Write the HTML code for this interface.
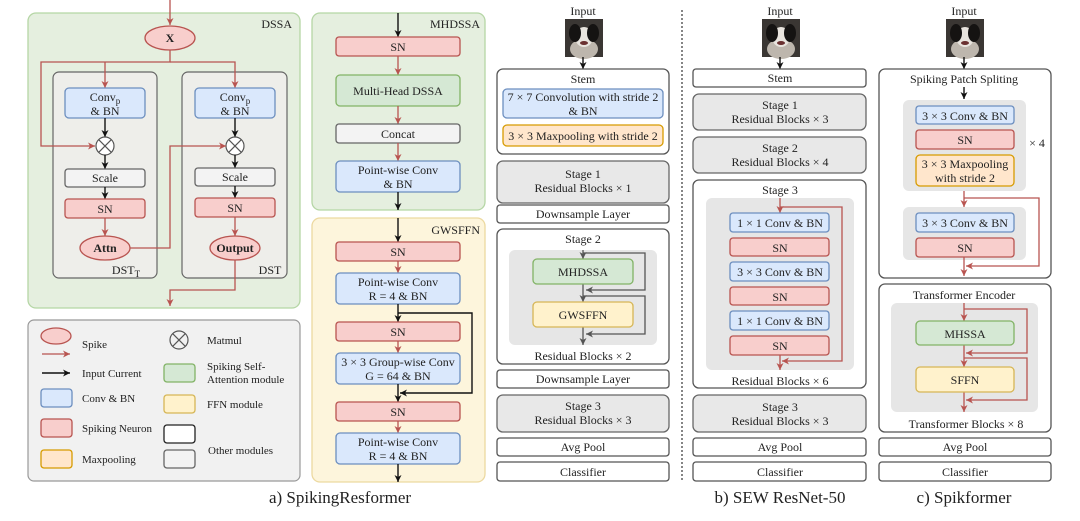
<!DOCTYPE html>
<html><head><meta charset="utf-8"><style>
html,body{margin:0;padding:0;background:#fff;}
svg{display:block;font-family:"Liberation Serif",serif;}
</style></head><body>
<svg width="1080" height="521" viewBox="0 0 1080 521" xmlns="http://www.w3.org/2000/svg">
<defs>
<marker id="ar" markerWidth="8" markerHeight="8" refX="7" refY="4" orient="auto" markerUnits="userSpaceOnUse"><path d="M0,0.5 L7,4 L0,7.5 L2,4 Z" fill="#b85450"/></marker>
<marker id="ak" markerWidth="8" markerHeight="8" refX="7" refY="4" orient="auto" markerUnits="userSpaceOnUse"><path d="M0,0.5 L7,4 L0,7.5 L2,4 Z" fill="#111"/></marker>
<marker id="ag" markerWidth="8" markerHeight="8" refX="7" refY="4" orient="auto" markerUnits="userSpaceOnUse"><path d="M0,0.5 L7,4 L0,7.5 L2,4 Z" fill="#555"/></marker>
<g id="dog"><rect width="38" height="38" fill="#3a3633"/><ellipse cx="19" cy="30" rx="14" ry="10" fill="#bdb6ad"/><ellipse cx="19" cy="18" rx="9" ry="10" fill="#e8e4de"/><ellipse cx="10" cy="14" rx="6" ry="9" fill="#151312"/><ellipse cx="28" cy="14" rx="6" ry="9" fill="#151312"/><ellipse cx="19" cy="24" rx="4" ry="2" fill="#6a3030"/></g>
</defs>
<style>
.t{font-size:12px;fill:#222;text-anchor:middle;}
.tl{font-size:12px;fill:#222;}
.lg11{font-size:11px;fill:#222;}
.cap{font-size:17px;fill:#222;text-anchor:middle;}
.b{stroke:#6c8ebf;fill:#dae8fc;stroke-width:1.3;}
.r{stroke:#b85450;fill:#f8cecc;stroke-width:1.3;}
.g{stroke:#82b366;fill:#d5e8d4;stroke-width:1.3;}
.y{stroke:#d6b656;fill:#fff2cc;stroke-width:1.3;}
.o{stroke:#d79b00;fill:#ffe6cc;stroke-width:1.3;}
.w{stroke:#555;fill:#fff;stroke-width:1.3;}
.s{stroke:#666;fill:#f3f3f3;stroke-width:1.3;}
.gr{stroke:#666;fill:#e8e8e8;stroke-width:1.3;}
.lr{stroke:#b85450;fill:none;stroke-width:1.3;}
.lk{stroke:#111;fill:none;stroke-width:1.4;}
.lg{stroke:#555;fill:none;stroke-width:1.3;}
</style>

<!-- DSSA panel -->
<rect x="28" y="13" width="272" height="295" rx="8" fill="#e5efdf" stroke="#b5d6a5" stroke-width="1.3"/>
<text x="292" y="28" class="tl" style="text-anchor:end">DSSA</text>
<rect x="53" y="72" width="104" height="206" rx="6" fill="#eeeeea" stroke="#666" stroke-width="1.2"/>
<rect x="182" y="72" width="105" height="206" rx="6" fill="#eeeeea" stroke="#666" stroke-width="1.2"/>
<line x1="170" y1="0" x2="170" y2="25" class="lr" marker-end="url(#ar)"/>
<ellipse cx="170" cy="38" rx="25" ry="12" class="r"/>
<text x="170" y="42" class="t" font-weight="bold">X</text>
<polyline points="170,50 170,62 41,62 41,146 95,146" class="lr" marker-end="url(#ar)"/>
<polyline points="105,62 105,88" class="lr" marker-end="url(#ar)"/>
<polyline points="170,62 235,62 235,88" class="lr" marker-end="url(#ar)"/>
<rect x="65" y="88" width="80" height="30" rx="4" class="b"/>
<text x="105" y="101" class="t">Conv<tspan style="font-size:9px" dy="3">p</tspan></text><text x="105" y="115" class="t">&amp; BN</text>
<rect x="195" y="88" width="80" height="30" rx="4" class="b"/>
<text x="235" y="101" class="t">Conv<tspan style="font-size:9px" dy="3">p</tspan></text><text x="235" y="115" class="t">&amp; BN</text>
<line x1="105" y1="118" x2="105" y2="137" class="lk" marker-end="url(#ak)"/>
<line x1="235" y1="118" x2="235" y2="137" class="lk" marker-end="url(#ak)"/>
<g stroke="#555" stroke-width="1.2" fill="#fff"><circle cx="105" cy="146" r="9"/><path d="M98.6,139.6 L111.4,152.4 M111.4,139.6 L98.6,152.4"/><circle cx="235" cy="146" r="9"/><path d="M228.6,139.6 L241.4,152.4 M241.4,139.6 L228.6,152.4"/></g>
<line x1="105" y1="155" x2="105" y2="169" class="lk" marker-end="url(#ak)"/>
<line x1="235" y1="155" x2="235" y2="168" class="lk" marker-end="url(#ak)"/>
<rect x="65" y="169" width="80" height="18" rx="3" class="s"/><text x="105" y="182" class="t">Scale</text>
<rect x="195" y="168" width="80" height="18" rx="3" class="s"/><text x="235" y="181" class="t">Scale</text>
<line x1="105" y1="187" x2="105" y2="199" class="lk" marker-end="url(#ak)"/>
<line x1="235" y1="186" x2="235" y2="198" class="lk" marker-end="url(#ak)"/>
<rect x="65" y="199" width="80" height="19" rx="3" class="r"/><text x="105" y="213" class="t">SN</text>
<rect x="195" y="198" width="80" height="19" rx="3" class="r"/><text x="235" y="212" class="t">SN</text>
<line x1="105" y1="218" x2="105" y2="236" class="lr" marker-end="url(#ar)"/>
<line x1="235" y1="217" x2="235" y2="236" class="lr" marker-end="url(#ar)"/>
<ellipse cx="105" cy="248" rx="25" ry="12" class="r"/><text x="105" y="252" class="t" font-weight="bold">Attn</text>
<ellipse cx="235" cy="248" rx="25" ry="12" class="r"/><text x="235" y="252" class="t" font-weight="bold">Output</text>
<polyline points="130,248 170,248 170,146 226,146" class="lr" marker-end="url(#ar)"/>
<polyline points="235,260 235,290 170,290 170,306" class="lr" marker-end="url(#ar)"/>
<text x="126" y="274" class="t">DST<tspan style="font-size:9px" dy="3">T</tspan></text>
<text x="270" y="274" class="t">DST</text>

<!-- Legend -->
<rect x="28" y="320" width="272" height="161" rx="6" fill="#f1f1f1" stroke="#999" stroke-width="1.2"/>
<ellipse cx="56" cy="336" rx="15" ry="8" class="r"/>
<text x="82" y="348" class="lg11">Spike</text>
<line x1="42" y1="354" x2="70" y2="354" class="lr" marker-end="url(#ar)"/>
<line x1="42" y1="373" x2="70" y2="373" class="lk" marker-end="url(#ak)"/>
<text x="82" y="377" class="lg11">Input Current</text>
<rect x="41" y="389" width="31" height="18" rx="3" class="b"/><text x="82" y="402" class="lg11">Conv &amp; BN</text>
<rect x="41" y="419" width="31" height="18" rx="3" class="r"/><text x="82" y="432" class="lg11">Spiking Neuron</text>
<rect x="41" y="450" width="31" height="18" rx="3" class="o"/><text x="82" y="463" class="lg11">Maxpooling</text>
<g stroke="#555" stroke-width="1.2" fill="none"><circle cx="179" cy="340" r="9"/><path d="M172.6,333.6 L185.4,346.4 M185.4,333.6 L172.6,346.4"/></g>
<text x="207" y="344" class="lg11">Matmul</text>
<rect x="164" y="364" width="31" height="18" rx="3" class="g"/>
<text x="207" y="370" class="lg11">Spiking Self-</text><text x="207" y="383" class="lg11">Attention module</text>
<rect x="164" y="395" width="31" height="18" rx="3" class="y"/><text x="207" y="408" class="lg11">FFN module</text>
<rect x="164" y="425" width="31" height="18" rx="3" fill="#fff" stroke="#222" stroke-width="1.3"/>
<rect x="164" y="450" width="31" height="18" rx="3" class="s"/>
<text x="208" y="454" class="lg11">Other modules</text>
<text x="340" y="503" class="cap">a) SpikingResformer</text>

<!-- MHDSSA -->
<rect x="312" y="13" width="173" height="197" rx="8" fill="#e5efdf" stroke="#b5d6a5" stroke-width="1.3"/>
<text x="480" y="28" class="tl" style="text-anchor:end">MHDSSA</text>
<line x1="398" y1="13" x2="398" y2="37" class="lk" marker-end="url(#ak)"/>
<rect x="336" y="37" width="124" height="19" rx="3" class="r"/><text x="398" y="51" class="t">SN</text>
<line x1="398" y1="56" x2="398" y2="75" class="lr" marker-end="url(#ar)"/>
<rect x="336" y="75" width="124" height="31" rx="4" class="g"/><text x="398" y="95" class="t">Multi-Head DSSA</text>
<line x1="398" y1="106" x2="398" y2="124" class="lr" marker-end="url(#ar)"/>
<rect x="336" y="124" width="124" height="19" rx="3" class="s"/><text x="398" y="138" class="t">Concat</text>
<line x1="398" y1="143" x2="398" y2="161" class="lr" marker-end="url(#ar)"/>
<rect x="336" y="161" width="124" height="31" rx="4" class="b"/><text x="398" y="174" class="t">Point-wise Conv</text><text x="398" y="188" class="t">&amp; BN</text>
<line x1="398" y1="192" x2="398" y2="210" class="lk" marker-end="url(#ak)"/>

<!-- GWSFFN -->
<rect x="312" y="218" width="173" height="264" rx="8" fill="#fdf5dc" stroke="#ecd9a0" stroke-width="1.3"/>
<text x="480" y="234" class="tl" style="text-anchor:end">GWSFFN</text>
<line x1="398" y1="218" x2="398" y2="242" class="lk" marker-end="url(#ak)"/>
<rect x="336" y="242" width="124" height="19" rx="3" class="r"/><text x="398" y="256" class="t">SN</text>
<line x1="398" y1="261" x2="398" y2="273" class="lr" marker-end="url(#ar)"/>
<rect x="336" y="273" width="124" height="31" rx="4" class="b"/><text x="398" y="286" class="t">Point-wise Conv</text><text x="398" y="300" class="t">R = 4 &amp; BN</text>
<line x1="398" y1="304" x2="398" y2="322" class="lk" marker-end="url(#ak)"/>
<polyline points="398,313 472,313 472,393 400,393" class="lk" marker-end="url(#ak)"/>
<rect x="336" y="322" width="124" height="19" rx="3" class="r"/><text x="398" y="336" class="t">SN</text>
<line x1="398" y1="341" x2="398" y2="353" class="lr" marker-end="url(#ar)"/>
<rect x="336" y="353" width="124" height="31" rx="4" class="b"/><text x="398" y="366" class="t">3 × 3 Group-wise Conv</text><text x="398" y="380" class="t">G = 64 &amp; BN</text>
<line x1="398" y1="384" x2="398" y2="402" class="lk" marker-end="url(#ak)"/>
<rect x="336" y="402" width="124" height="19" rx="3" class="r"/><text x="398" y="416" class="t">SN</text>
<line x1="398" y1="421" x2="398" y2="433" class="lr" marker-end="url(#ar)"/>
<rect x="336" y="433" width="124" height="31" rx="4" class="b"/><text x="398" y="446" class="t">Point-wise Conv</text><text x="398" y="460" class="t">R = 4 &amp; BN</text>
<line x1="398" y1="464" x2="398" y2="482" class="lk" marker-end="url(#ak)"/>

<!-- ResFormer column -->
<text x="583" y="15" class="t">Input</text>
<use href="#dog" x="565" y="19"/>
<line x1="583" y1="57" x2="583" y2="69" class="lk" marker-end="url(#ak)"/>
<rect x="497" y="69" width="172" height="85" rx="6" class="w"/>
<text x="583" y="83" class="t">Stem</text>
<rect x="503" y="89" width="160" height="29" rx="4" class="b"/><text x="583" y="101" class="t">7 × 7 Convolution with stride 2</text><text x="583" y="115" class="t">&amp; BN</text>
<rect x="503" y="125" width="160" height="21" rx="4" class="o"/><text x="583" y="140" class="t">3 × 3 Maxpooling with stride 2</text>
<rect x="497" y="161" width="172" height="42" rx="6" class="gr"/><text x="583" y="178" class="t">Stage 1</text><text x="583" y="192" class="t">Residual Blocks × 1</text>
<rect x="497" y="205" width="172" height="18" rx="3" class="w"/><text x="583" y="218" class="t">Downsample Layer</text>
<rect x="497" y="229" width="172" height="135" rx="6" class="w"/>
<text x="583" y="243" class="t">Stage 2</text>
<rect x="509" y="250" width="148" height="95" rx="6" fill="#e6e6e6"/>
<line x1="583" y1="250" x2="583" y2="259" class="lg" marker-end="url(#ag)"/>
<polyline points="583,253 645,253 645,290 586,290" class="lg" marker-end="url(#ag)"/>
<polyline points="583,284 583,302" class="lg" marker-end="url(#ag)"/>
<polyline points="583,296 645,296 645,334 586,334" class="lg" marker-end="url(#ag)"/>
<line x1="583" y1="327" x2="583" y2="345" class="lg" marker-end="url(#ag)"/>
<rect x="533" y="259" width="100" height="25" rx="4" class="g"/><text x="583" y="276" class="t">MHDSSA</text>
<rect x="533" y="302" width="100" height="25" rx="4" class="y"/><text x="583" y="319" class="t">GWSFFN</text>
<text x="583" y="360" class="t">Residual Blocks × 2</text>
<rect x="497" y="370" width="172" height="18" rx="3" class="w"/><text x="583" y="383" class="t">Downsample Layer</text>
<rect x="497" y="395" width="172" height="37" rx="6" class="gr"/><text x="583" y="410" class="t">Stage 3</text><text x="583" y="424" class="t">Residual Blocks × 3</text>
<rect x="497" y="438" width="172" height="18" rx="3" class="w"/><text x="583" y="451" class="t">Avg Pool</text>
<rect x="497" y="462" width="172" height="19" rx="3" class="w"/><text x="583" y="476" class="t">Classifier</text>

<line x1="682" y1="10" x2="682" y2="481" stroke="#444" stroke-width="1.3" stroke-dasharray="2,2"/>

<!-- SEW -->
<text x="780" y="15" class="t">Input</text>
<use href="#dog" x="762" y="19"/>
<line x1="780" y1="57" x2="780" y2="69" class="lk" marker-end="url(#ak)"/>
<rect x="693" y="69" width="173" height="18" rx="3" class="w"/><text x="780" y="82" class="t">Stem</text>
<rect x="693" y="94" width="173" height="36" rx="6" class="gr"/><text x="780" y="109" class="t">Stage 1</text><text x="780" y="123" class="t">Residual Blocks × 3</text>
<rect x="693" y="137" width="173" height="36" rx="6" class="gr"/><text x="780" y="152" class="t">Stage 2</text><text x="780" y="166" class="t">Residual Blocks × 4</text>
<rect x="693" y="180" width="173" height="208" rx="6" class="w"/>
<text x="780" y="194" class="t">Stage 3</text>
<rect x="706" y="198" width="148" height="172" rx="6" fill="#e6e6e6"/>
<line x1="780" y1="198" x2="780" y2="213" class="lr" marker-end="url(#ar)"/>
<polyline points="780,207 842,207 842,361 782,361" class="lr" marker-end="url(#ar)"/>
<line x1="780" y1="355" x2="780" y2="370" class="lr" marker-end="url(#ar)"/>
<rect x="730" y="213" width="99" height="19" rx="3" class="b"/><text x="780" y="227" class="t">1 × 1 Conv &amp; BN</text>
<rect x="730" y="238" width="99" height="18" rx="3" class="r"/><text x="780" y="252" class="t">SN</text>
<rect x="730" y="262" width="99" height="19" rx="3" class="b"/><text x="780" y="276" class="t">3 × 3 Conv &amp; BN</text>
<rect x="730" y="287" width="99" height="18" rx="3" class="r"/><text x="780" y="301" class="t">SN</text>
<rect x="730" y="311" width="99" height="19" rx="3" class="b"/><text x="780" y="325" class="t">1 × 1 Conv &amp; BN</text>
<rect x="730" y="336" width="99" height="19" rx="3" class="r"/><text x="780" y="350" class="t">SN</text>
<text x="780" y="385" class="t">Residual Blocks × 6</text>
<rect x="693" y="395" width="173" height="37" rx="6" class="gr"/><text x="780" y="411" class="t">Stage 3</text><text x="780" y="425" class="t">Residual Blocks × 3</text>
<rect x="693" y="438" width="173" height="18" rx="3" class="w"/><text x="780" y="451" class="t">Avg Pool</text>
<rect x="693" y="462" width="173" height="19" rx="3" class="w"/><text x="780" y="476" class="t">Classifier</text>
<text x="780" y="503" class="cap">b) SEW ResNet-50</text>

<!-- Spikformer -->
<text x="964" y="15" class="t">Input</text>
<use href="#dog" x="946" y="19"/>
<line x1="964" y1="57" x2="964" y2="69" class="lk" marker-end="url(#ak)"/>
<rect x="879" y="69" width="172" height="209" rx="6" class="w"/>
<text x="964" y="83" class="t">Spiking Patch Spliting</text>
<line x1="964" y1="87" x2="964" y2="99" class="lk" marker-end="url(#ak)"/>
<rect x="903" y="100" width="123" height="91" rx="6" fill="#e6e6e6"/>
<rect x="916" y="106" width="98" height="18" rx="3" class="b"/><text x="965" y="120" class="t">3 × 3 Conv &amp; BN</text>
<rect x="916" y="130" width="98" height="19" rx="3" class="r"/><text x="965" y="144" class="t">SN</text>
<rect x="916" y="155" width="98" height="31" rx="4" class="o"/><text x="965" y="168" class="t">3 × 3 Maxpooling</text><text x="965" y="182" class="t">with stride 2</text>
<text x="1037" y="147" class="t">× 4</text>
<line x1="964" y1="191" x2="964" y2="207" class="lr" marker-end="url(#ar)"/>
<polyline points="964,198 1039,198 1039,266 966,266" class="lr" marker-end="url(#ar)"/>
<rect x="903" y="207" width="123" height="53" rx="6" fill="#e6e6e6"/>
<rect x="916" y="213" width="98" height="19" rx="3" class="b"/><text x="965" y="227" class="t">3 × 3 Conv &amp; BN</text>
<rect x="916" y="238" width="98" height="19" rx="3" class="r"/><text x="965" y="252" class="t">SN</text>
<line x1="964" y1="257" x2="964" y2="276" class="lr" marker-end="url(#ar)"/>
<rect x="879" y="284" width="172" height="148" rx="6" class="w"/>
<text x="964" y="299" class="t">Transformer Encoder</text>
<rect x="891" y="303" width="147" height="109" rx="6" fill="#e6e6e6"/>
<line x1="964" y1="303" x2="964" y2="321" class="lr" marker-end="url(#ar)"/>
<polyline points="964,309 1027,309 1027,353 966,353" class="lr" marker-end="url(#ar)"/>
<line x1="964" y1="345" x2="964" y2="367" class="lr" marker-end="url(#ar)"/>
<polyline points="964,358 1027,358 1027,400 966,400" class="lr" marker-end="url(#ar)"/>
<line x1="964" y1="392" x2="964" y2="412" class="lr" marker-end="url(#ar)"/>
<rect x="916" y="321" width="98" height="24" rx="4" class="g"/><text x="965" y="338" class="t">MHSSA</text>
<rect x="916" y="367" width="98" height="25" rx="4" class="y"/><text x="965" y="384" class="t">SFFN</text>
<text x="966" y="428" class="t">Transformer Blocks × 8</text>
<rect x="879" y="438" width="172" height="18" rx="3" class="w"/><text x="965" y="451" class="t">Avg Pool</text>
<rect x="879" y="462" width="172" height="19" rx="3" class="w"/><text x="965" y="476" class="t">Classifier</text>
<text x="964" y="503" class="cap">c) Spikformer</text>
</svg>
</body></html>
